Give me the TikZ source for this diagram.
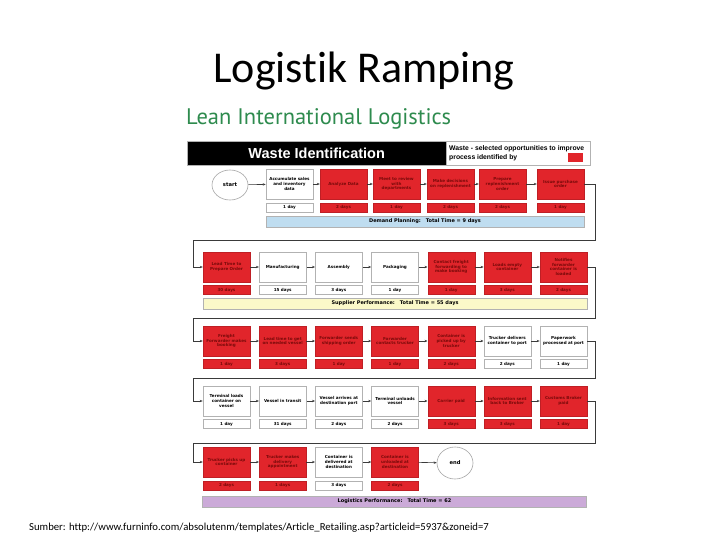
\documentclass[tikz,border=0pt]{standalone}
\usepackage{fontspec}
\setmainfont{Carlito}[Ligatures=NoCommon]
\newfontfamily\dv{DejaVu Sans}
\newfontfamily\lib{Liberation Sans}
\newfontfamily\ptsans{PT Sans}
\usetikzlibrary{arrows.meta,shapes.geometric}
\definecolor{wred}{HTML}{E1252B}
\definecolor{wtxt}{HTML}{7A0A0A}
\definecolor{bbar}{HTML}{BFDDF0}
\definecolor{ybar}{HTML}{FBF9C9}
\definecolor{pbar}{HTML}{CBAAD8}
\definecolor{lgreen}{HTML}{2E8B4E}
\definecolor{conn}{HTML}{3A3A3A}
\tikzset{
 box/.style={rectangle, minimum width=47pt, minimum height=30pt, text width=46pt, inner sep=0pt, align=center, font=\dv\bfseries\fontsize{4.1}{4.8}\selectfont},
 wbox/.style={box, draw=gray!60, fill=white, text=black, line width=0.6pt},
 rbox/.style={box, draw=wred!85!black, fill=wred, text=wtxt, line width=0.4pt},
 day/.style={rectangle, minimum width=47pt, minimum height=9pt, inner sep=0pt, font=\dv\bfseries\fontsize{4.1}{4.8}\selectfont},
 wday/.style={day, draw=gray!60, fill=white, line width=0.6pt},
 rday/.style={day, draw=wred!85!black, fill=wred, text=wtxt, line width=0.4pt},
 bar/.style={rectangle, minimum height=11pt, inner sep=0pt, draw=gray!60, line width=0.5pt, font=\dv\bfseries\fontsize{5}{5.8}\selectfont},
 term/.style={ellipse, draw=gray!70, fill=white, line width=0.6pt, minimum width=36pt, minimum height=30pt, inner sep=0pt, font=\dv\bfseries\fontsize{5.2}{6}\selectfont},
 arr/.style={draw=conn, line width=0.6pt, -{Stealth[length=3pt,width=2.4pt]}},
}
\begin{document}
\begin{tikzpicture}[x=1pt,y=-1pt]
\useasboundingbox[fill=white] (0,0) rectangle (728,546);
% titles
\node[anchor=base, inner sep=0pt, font=\fontsize{44}{50}\selectfont] (title) at (364,82) {Logistik Ramping};
\node[anchor=base west, inner sep=0pt, text=lgreen, font=\ptsans\fontsize{22.5}{26}\selectfont] (sub) at (186,124) {Lean International Logistics};
% header
\node[fill=black, draw=gray!60, minimum width=259pt, minimum height=24pt, inner sep=0pt, anchor=north west, text=white, font=\lib\bfseries\fontsize{14.5}{16}\selectfont] (hdr) at (187,141) {Waste Identification};
\node[draw=gray!60, fill=white, minimum width=144pt, minimum height=24pt, inner sep=0pt, anchor=north west] (leg) at (446,141) {};
\node[anchor=north west, align=left, inner sep=0pt, font=\lib\bfseries\fontsize{6.8}{9}\selectfont] (legt) at (449,145) {Waste - selected opportunities to improve\\process identified by};
\node[fill=wred, minimum width=15pt, minimum height=9pt, inner sep=0pt, anchor=north west] (sw) at (568,153) {};
% row 1
\node[term] (start) at (230,185) {start};
\node[wbox] (r1b1) at (289.5,184) {Accumulate sales\\and inventory\\data};
\node[rbox] (r1b2) at (343.5,184) {Analyze Data};
\node[rbox] (r1b3) at (396.5,184) {Meet to review\\with\\departments};
\node[rbox] (r1b4) at (450.5,184) {Make decisions\\on replenishment};
\node[rbox] (r1b5) at (502.5,184) {Prepare\\replenishment\\order};
\node[rbox] (r1b6) at (560.5,184) {Issue purchase\\order};
\node[wday] (r1d1) at (289.5,207.5) {1 day};
\node[rday] (r1d2) at (343.5,207.5) {2 days};
\node[rday] (r1d3) at (396.5,207.5) {1 day};
\node[rday] (r1d4) at (450.5,207.5) {2 days};
\node[rday] (r1d5) at (502.5,207.5) {2 days};
\node[rday] (r1d6) at (560.5,207.5) {1 day};
\node[bar, fill=bbar, minimum width=318pt] (bar1) at (425,221.5) {Demand Planning:\quad Total Time = 9 days};
% row 2
\node[rbox] (r2b1) at (226.5,267) {Lead Time to\\Prepare Order};
\node[wbox] (r2b2) at (282.7,267) {Manufacturing};
\node[wbox] (r2b3) at (338.8,267) {Assembly};
\node[wbox] (r2b4) at (395,267) {Packaging};
\node[rbox] (r2b5) at (451.2,267) {Contact freight\\forwarding to\\make booking};
\node[rbox] (r2b6) at (507.3,267) {Loads empty\\container};
\node[rbox] (r2b7) at (563.5,267) {Notifies\\forwarder\\container is\\loaded};
\node[rday] (r2d1) at (226.5,290) {30 days};
\node[wday] (r2d2) at (282.7,290) {15 days};
\node[wday] (r2d3) at (338.8,290) {3 days};
\node[wday] (r2d4) at (395,290) {1 day};
\node[rday] (r2d5) at (451.2,290) {1 day};
\node[rday] (r2d6) at (507.3,290) {3 days};
\node[rday] (r2d7) at (563.5,290) {2 days};
\node[bar, fill=ybar, minimum width=384pt] (bar2) at (395,303.5) {Supplier Performance:\quad Total Time = 55 days};
% row 3
\node[rbox] (r3b1) at (226.5,341) {Freight\\Forwarder makes\\booking};
\node[rbox] (r3b2) at (282.7,341) {Lead time to get\\on needed vessel};
\node[rbox] (r3b3) at (338.8,341) {Forwarder sends\\shipping order};
\node[rbox] (r3b4) at (395,341) {Forwarder\\contacts trucker};
\node[rbox] (r3b5) at (451.2,341) {Container is\\picked up by\\trucker};
\node[wbox] (r3b6) at (507.3,341) {Trucker delivers\\container to port};
\node[wbox] (r3b7) at (563.5,341) {Paperwork\\processed at port};
\node[rday] (r3d1) at (226.5,364) {1 day};
\node[rday] (r3d2) at (282.7,364) {3 days};
\node[rday] (r3d3) at (338.8,364) {1 day};
\node[rday] (r3d4) at (395,364) {1 day};
\node[rday] (r3d5) at (451.2,364) {2 days};
\node[wday] (r3d6) at (507.3,364) {2 days};
\node[wday] (r3d7) at (563.5,364) {1 day};
% row 4
\node[wbox] (r4b1) at (226.5,401) {Terminal loads\\container on\\vessel};
\node[wbox] (r4b2) at (282.7,401) {Vessel in transit};
\node[wbox] (r4b3) at (338.8,401) {Vessel arrives at\\destination port};
\node[wbox] (r4b4) at (395,401) {Terminal unloads\\vessel};
\node[rbox] (r4b5) at (451.2,401) {Carrier paid};
\node[rbox] (r4b6) at (507.3,401) {Information sent\\back to Broker};
\node[rbox] (r4b7) at (563.5,401) {Customs Broker\\paid};
\node[wday] (r4d1) at (226.5,424) {1 day};
\node[wday] (r4d2) at (282.7,424) {31 days};
\node[wday] (r4d3) at (338.8,424) {2 days};
\node[wday] (r4d4) at (395,424) {2 days};
\node[rday] (r4d5) at (451.2,424) {3 days};
\node[rday] (r4d6) at (507.3,424) {3 days};
\node[rday] (r4d7) at (563.5,424) {1 day};
% row 5
\node[rbox] (r5b1) at (226.5,462) {Trucker picks up\\container};
\node[rbox] (r5b2) at (282.7,462) {Trucker makes\\delivery\\appointment};
\node[wbox] (r5b3) at (338.8,462) {Container is\\delivered at\\destination};
\node[rbox] (r5b4) at (395,462) {Container is\\unloaded at\\destination};
\node[term, minimum height=32pt] (end) at (455,463) {end};
\node[rday] (r5d1) at (226.5,485.5) {2 days};
\node[rday] (r5d2) at (282.7,485.5) {1 days};
\node[wday] (r5d3) at (338.8,485.5) {3 days};
\node[rday] (r5d4) at (395,485.5) {2 days};
\node[bar, fill=pbar, minimum width=384pt] (bar3) at (394.5,501.5) {Logistics Performance:\quad Total Time = 62};
% source
\node[anchor=base west, inner sep=0pt, font=\fontsize{10.7}{12}\selectfont] (src) at (29,530) {Sumber: http://www.furninfo.com/absolutenm/templates/Article\_Retailing.asp?articleid=5937\&zoneid=7};
% connectors
\coordinate (c1a) at (595,240); \coordinate (c1b) at (193,240);
\coordinate (c2a) at (595,318); \coordinate (c2b) at (193,318);
\coordinate (c3a) at (595,378); \coordinate (c3b) at (193,378);
\coordinate (c4a) at (595,443); \coordinate (c4b) at (193,443);
\draw[arr] (start) -- (r1b1);
\draw[arr] (r1b1) -- (r1b2);
\draw[arr] (r1b2) -- (r1b3);
\draw[arr] (r1b3) -- (r1b4);
\draw[arr] (r1b4) -- (r1b5);
\draw[arr] (r1b5) -- (r1b6);
\draw[arr] (r1b6.east) -| (c1a) -- (c1b) |- (r2b1.west);
\draw[arr] (r2b1) -- (r2b2);
\draw[arr] (r2b2) -- (r2b3);
\draw[arr] (r2b3) -- (r2b4);
\draw[arr] (r2b4) -- (r2b5);
\draw[arr] (r2b5) -- (r2b6);
\draw[arr] (r2b6) -- (r2b7);
\draw[arr] (r2b7.east) -| (c2a) -- (c2b) |- (r3b1.west);
\draw[arr] (r3b1) -- (r3b2);
\draw[arr] (r3b2) -- (r3b3);
\draw[arr] (r3b3) -- (r3b4);
\draw[arr] (r3b4) -- (r3b5);
\draw[arr] (r3b5) -- (r3b6);
\draw[arr] (r3b6) -- (r3b7);
\draw[arr] (r3b7.east) -| (c3a) -- (c3b) |- (r4b1.west);
\draw[arr] (r4b1) -- (r4b2);
\draw[arr] (r4b2) -- (r4b3);
\draw[arr] (r4b3) -- (r4b4);
\draw[arr] (r4b4) -- (r4b5);
\draw[arr] (r4b5) -- (r4b6);
\draw[arr] (r4b6) -- (r4b7);
\draw[arr] (r4b7.east) -| (c4a) -- (c4b) |- (r5b1.west);
\draw[arr] (r5b1) -- (r5b2);
\draw[arr] (r5b2) -- (r5b3);
\draw[arr] (r5b3) -- (r5b4);
\draw[arr] (r5b4) -- (end);
\end{tikzpicture}
\end{document}
